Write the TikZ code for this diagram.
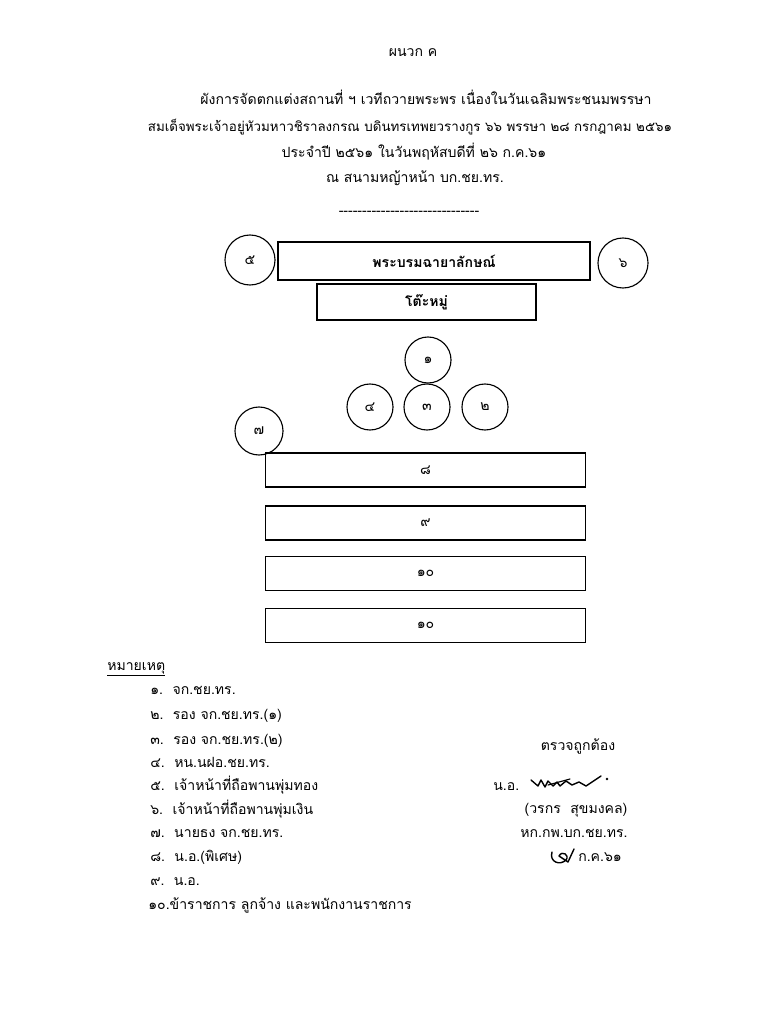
\documentclass[tikz,border=0pt]{standalone}
\usepackage{fontspec}
\newfontfamily\thaifont[Script=Thai]{Loma}
\usetikzlibrary{positioning}

\begin{document}
\begin{tikzpicture}[x=0.025cm,y=-0.025cm,>=stealth,
  font=\thaifont\fontsize{10}{12}\selectfont,
  seat/.style={draw,circle,line width=0.8pt,minimum size=1.15cm,inner sep=0pt},
  board/.style={draw,rectangle,line width=0.9pt,inner sep=0pt},
  row/.style={board,minimum width=8cm,minimum height=0.85cm},
  title/.style={anchor=base,inner sep=0pt},
  item/.style={anchor=base west,inner sep=0pt}]
\useasboundingbox[fill=white] (0,0) rectangle (760,1024);
\node[title] (annex) at (413,57) {ผนวก ค};
\node[title] (t1) at (426,105) {ผังการจัดตกแต่งสถานที่ ฯ เวทีถวายพระพร เนื่องในวันเฉลิมพระชนมพรรษา};
\node[title,font=\thaifont\fontsize{9.5}{12}\selectfont] (t2) at (410,132) {สมเด็จพระเจ้าอยู่หัวมหาวชิราลงกรณ บดินทรเทพยวรางกูร ๖๖ พรรษา ๒๘ กรกฎาคม ๒๕๖๑};
\node[title] (t3) at (414,158) {ประจำปี ๒๕๖๑ ในวันพฤหัสบดีที่ ๒๖ ก.ค.๖๑};
\node[title] (t4) at (415,183) {ณ สนามหญ้าหน้า บก.ชย.ทร.};
\node[title] (rule) at (409,216) {------------------------------};

\node[board,minimum width=7.8cm,minimum height=0.95cm,font=\thaifont\bfseries\fontsize{10}{12}\selectfont] (photo) at (434,261) {พระบรมฉายาลักษณ์};
\node[board,minimum width=5.475cm,minimum height=0.9cm,font=\thaifont\bfseries\fontsize{10}{12}\selectfont] (altar) at (426.5,302) {โต๊ะหมู่};
\node[seat,minimum size=1.25cm] (s5) at (250,260) {๕};
\node[seat,minimum size=1.25cm] (s6) at (623,263) {๖};
\node[seat] (s1) at (428,360) {๑};
\node[seat] (s4) at (370,407) {๔};
\node[seat] (s3) at (427,407) {๓};
\node[seat] (s2) at (485,407) {๒};
\node[seat,minimum size=1.2cm] (s7) at (259,431) {๗};
\node[row] (r8) at (425.5,470) {๘};
\node[row] (r9) at (425.5,523) {๙};
\node[row] (r10a) at (425.5,573.5) {๑๐};
\node[row] (r10b) at (425.5,625.5) {๑๐};

\node[item] (note) at (107,670) {\underline{หมายเหตุ}};
\node[item] (n1) at (150,694) {๑.~~จก.ชย.ทร.};
\node[item] (n2) at (150,719) {๒.~~รอง จก.ชย.ทร.(๑)};
\node[item] (n3) at (150,744) {๓.~~รอง จก.ชย.ทร.(๒)};
\node[item] (n4) at (150,767) {๔.~~หน.นฝอ.ชย.ทร.};
\node[item] (n5) at (150,790) {๕.~~เจ้าหน้าที่ถือพานพุ่มทอง};
\node[item] (n6) at (150,814) {๖.~~เจ้าหน้าที่ถือพานพุ่มเงิน};
\node[item] (n7) at (150,837) {๗.~~นายธง จก.ชย.ทร.};
\node[item] (n8) at (150,861) {๘.~~น.อ.(พิเศษ)};
\node[item] (n9) at (150,885) {๙.~~น.อ.};
\node[item] (n10) at (148,909) {๑๐.ข้าราชการ ลูกจ้าง และพนักงานราชการ};

\node[title] (check) at (578,750) {ตรวจถูกต้อง};
\node[item] (rank) at (493,790) {น.อ.};
\node[title] (name) at (576,813) {(วรกร~~สุขมงคล)};
\node[title] (post) at (574,837) {หก.กพ.บก.ชย.ทร.};
\node[item] (date) at (578,861) {ก.ค.๖๑};
\draw[line width=1pt,line cap=round,line join=round] (531,780) -- (538,786) -- (541,780) -- (545,787) -- (548,781) -- (553,786) -- (557,782) -- (560,786) -- (566,781) -- (572,785) -- (579,782) -- (586,786) -- (601,776);
\draw[line width=0.8pt,line cap=round] (548,785) -- (570,779);
\fill (607,779) circle (1pt);
\draw[line width=1pt,line cap=round,line join=round] (552,852) .. controls (549,862) and (560,866) .. (566,860) .. controls (570,855) and (562,850) .. (559,856) -- (568,862) -- (574,849);
\end{tikzpicture}
\end{document}
